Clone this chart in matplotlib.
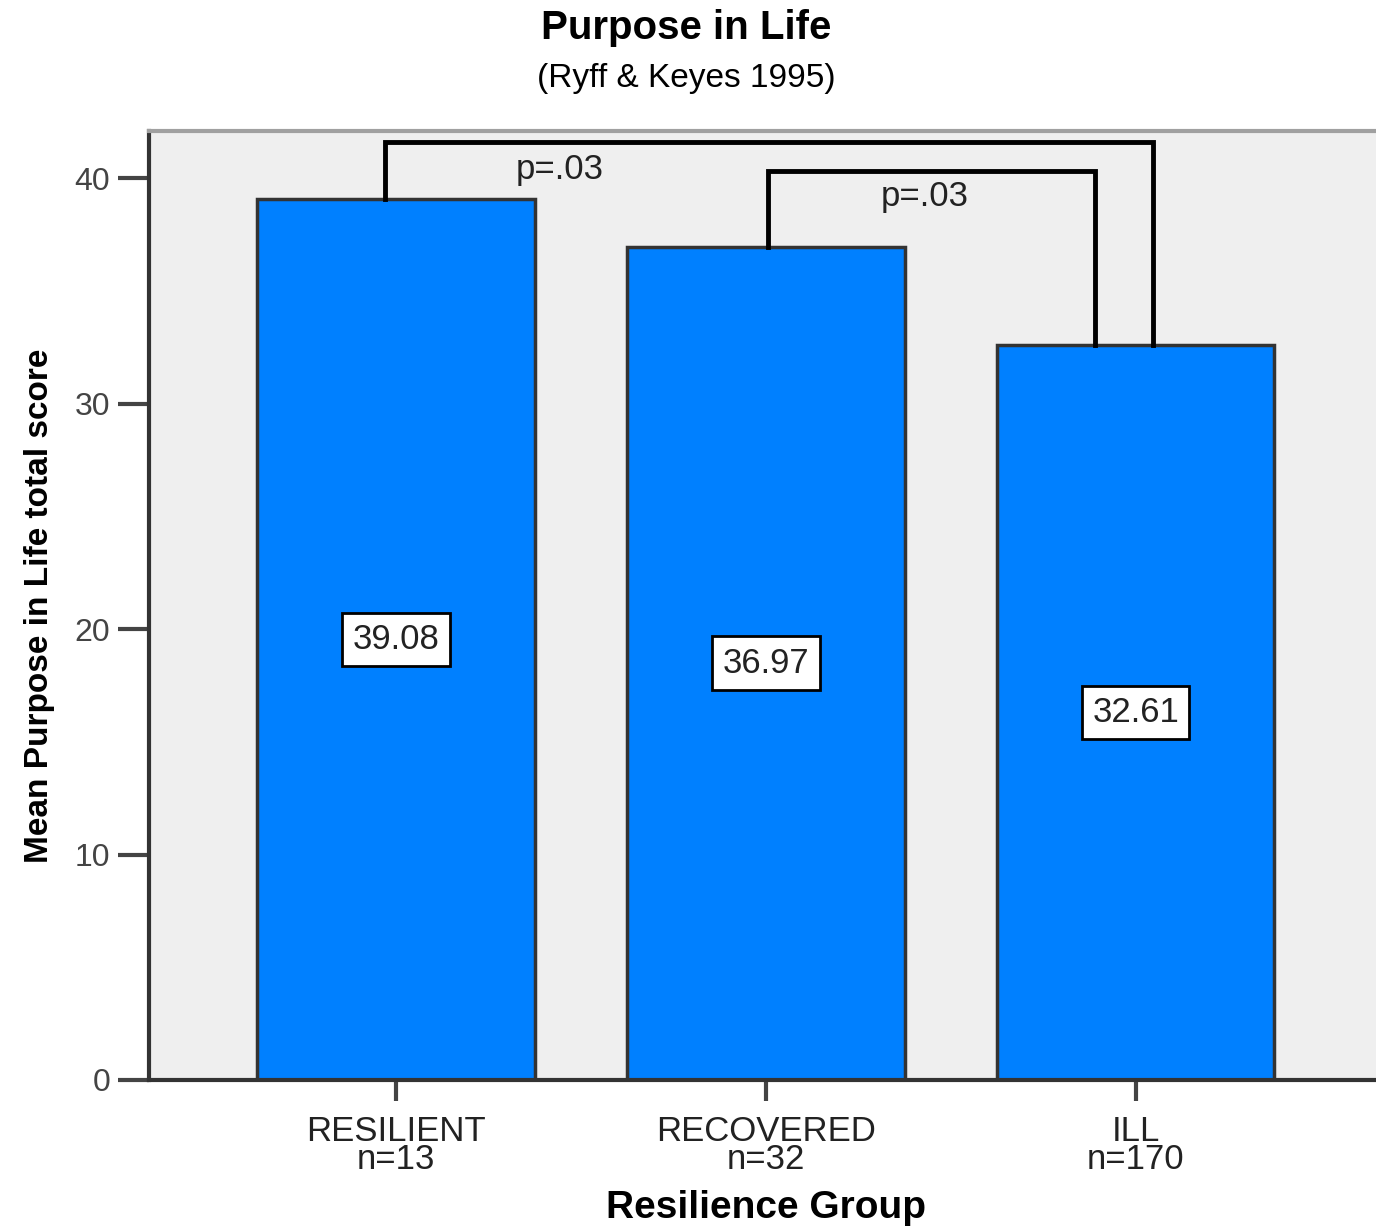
import matplotlib.pyplot as plt

# DATA
groups = ['RESILIENT', 'RECOVERED', 'ILL']
sizes = ['n=13', 'n=32', 'n=170']
means = [39.08, 36.97, 32.61]
yticks = [0, 10, 20, 30, 40]
pvals = ['p=.03', 'p=.03']

plt.rcParams['font.family'] = ['Liberation Sans', 'DejaVu Sans']

fig = plt.figure(figsize=(13.76, 12.26), dpi=100)
ax = fig.add_axes([0.1083, 0.1191, 0.8917, 0.774])
ax.set_facecolor('#efefef')

x = list(range(len(groups)))
ax.bar(x, means, width=0.75, color='#0080ff', edgecolor='#333333', linewidth=2.5, zorder=2)

# value boxes at half height
for xi, m in zip(x, means):
    ax.text(xi, m / 2, '%.2f' % m, ha='center', va='center', fontsize=25, color='#222222',
            bbox=dict(boxstyle='square,pad=0.3', fc='white', ec='black', lw=2), zorder=3)

# significance brackets
ax.plot([-0.03, -0.03, 2.046, 2.046], [means[0], 41.6, 41.6, means[2]], color='black', lw=3.5,
        zorder=3, solid_joinstyle='miter')
ax.plot([1.005, 1.005, 1.889, 1.889], [means[1], 40.35, 40.35, means[2]], color='black', lw=3.5,
        zorder=3, solid_joinstyle='miter')
ax.text(0.443, 40.4, pvals[0], ha='center', va='center', fontsize=25, color='#222222')
ax.text(1.43, 39.2, pvals[1], ha='center', va='center', fontsize=25, color='#222222')

ax.set_xlim(-0.668, 2.65)
ax.set_ylim(0, 42.1)
ax.set_yticks(yticks)
ax.set_yticklabels([str(t) for t in yticks], fontsize=23, color='#444444')
ax.set_xticks(x)
ax.set_xticklabels([g + '\n' + n for g, n in zip(groups, sizes)], fontsize=25,
                   color='#222222', linespacing=0.8)
ax.tick_params(axis='y', length=22, width=3, color='#444444', pad=6)
ax.tick_params(axis='x', length=15, width=3, color='#444444', pad=10)

for s in ['left', 'bottom']:
    ax.spines[s].set_linewidth(3)
    ax.spines[s].set_color('#333333')
ax.spines['top'].set_color('#a0a0a0')
ax.spines['top'].set_linewidth(3)
ax.spines['right'].set_visible(False)

ax.set_ylabel('Mean Purpose in Life total score', fontsize=24, fontweight='bold',
              family=['Liberation Sans Narrow', 'Liberation Sans'], labelpad=14)
fig.text(0.5567, 0.0146, 'Resilience Group', ha='center', va='center', fontsize=28, fontweight='bold')

fig.text(0.4985, 0.977, 'Purpose in Life', ha='center', va='center', fontsize=29, fontweight='bold')
fig.text(0.4985, 0.936, '(Ryff & Keyes 1995)', ha='center', va='center', fontsize=24)

fig.savefig('out.png', dpi=100)
